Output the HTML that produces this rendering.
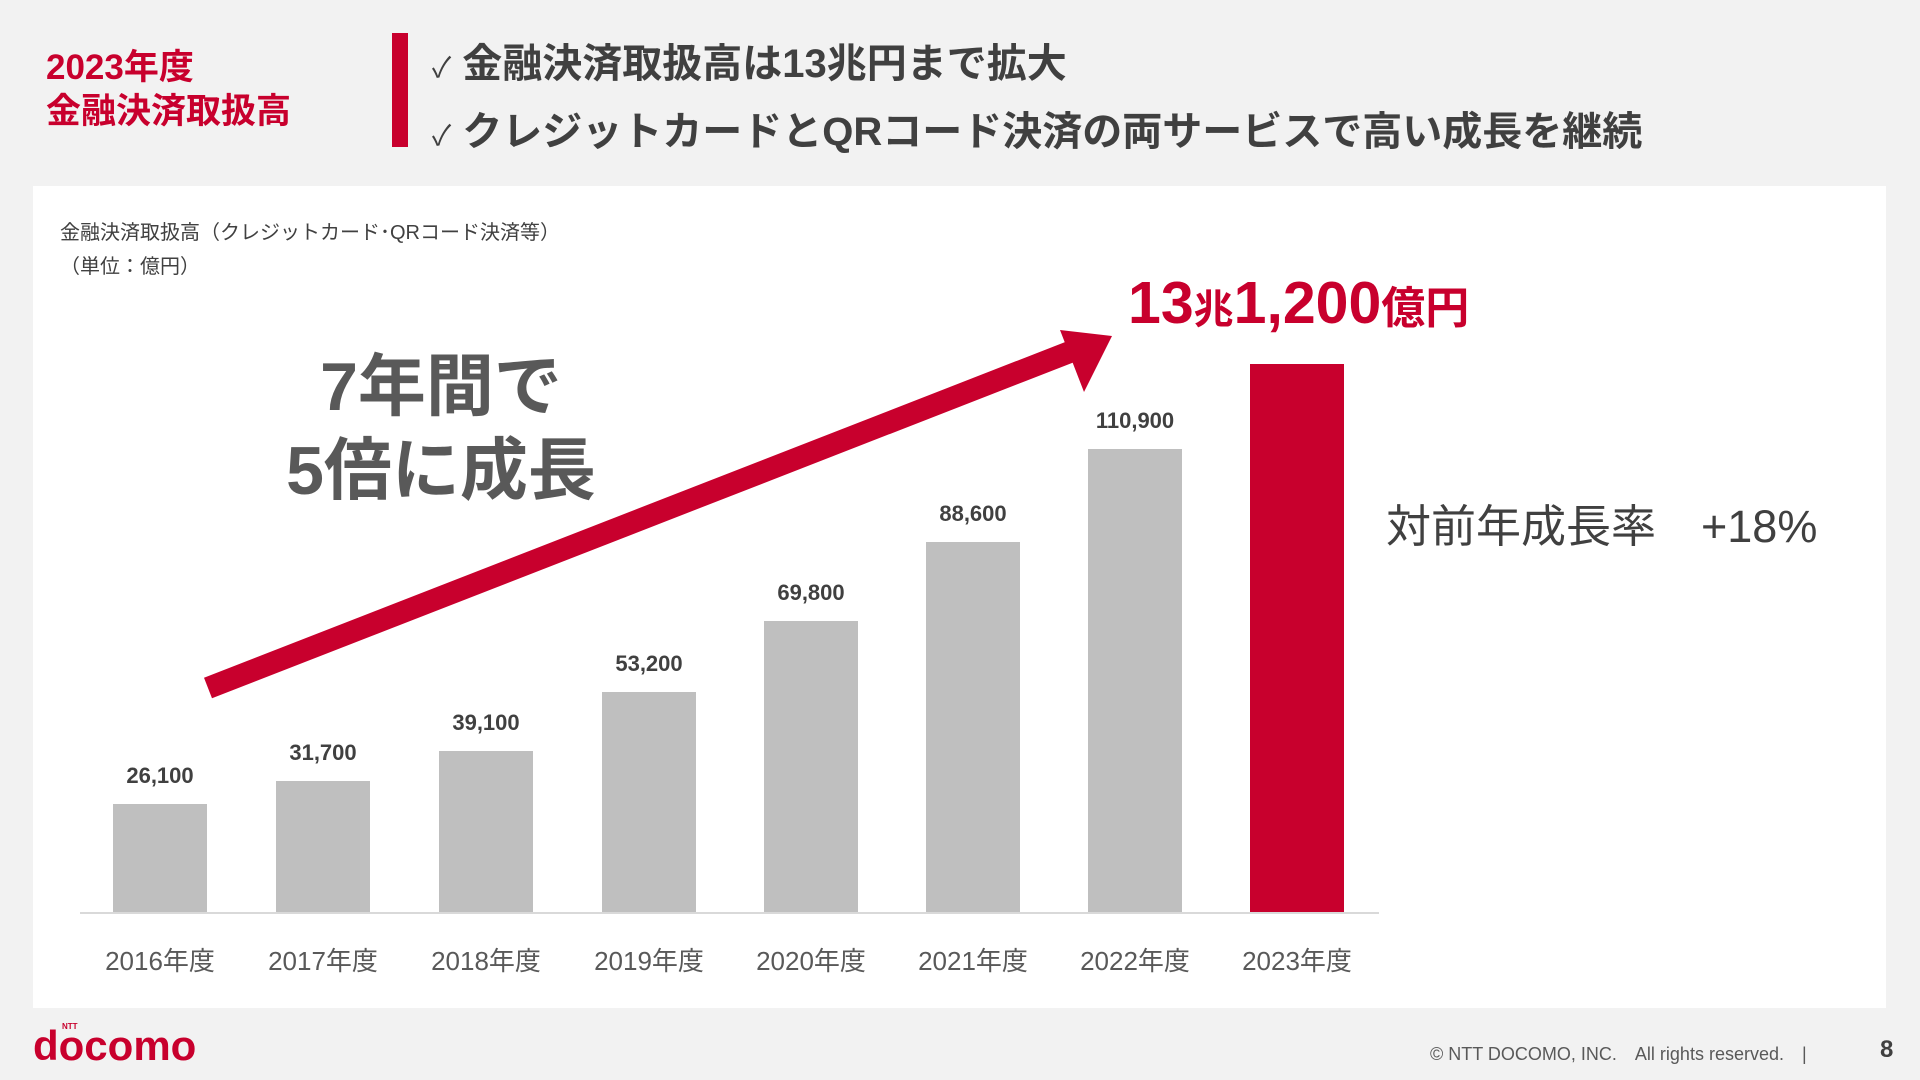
<!DOCTYPE html>
<html><head><meta charset="utf-8"><style>
*{margin:0;padding:0;box-sizing:border-box}
body{width:1920px;height:1080px;background:#f2f2f2;position:relative;overflow:hidden;font-family:"Liberation Sans","Noto Sans CJK JP",sans-serif}
.a{position:absolute;white-space:nowrap}
.red{color:#c8002d}
.bar{position:absolute;width:94px;background:#bfbfbf}
.v{position:absolute;width:140px;text-align:center;font-size:22px;color:#404040;font-weight:bold}
.x{position:absolute;width:160px;text-align:center;font-size:26px;color:#595959;top:941px}
</style></head><body>
<div class="a red" style="left:46px;top:46px;font-size:35px;font-weight:bold;line-height:44px">2023年度<br>金融決済取扱高</div>
<div class="a" style="left:392px;top:33px;width:16px;height:114px;background:#c8002d"></div>
<div class="a" style="left:432px;top:32px;font-size:40px;font-weight:bold;color:#404040;line-height:64px"><span style="font-size:28px;font-weight:normal">✓</span> 金融決済取扱高は13兆円まで拡大<br><span style="font-size:28px;font-weight:normal">✓</span> クレジットカードとQRコード決済の両サービスで高い成長を継続</div>
<div class="a" style="left:33px;top:186px;width:1853px;height:822px;background:#fff"></div>
<div class="a" style="left:60px;top:216px;font-size:20px;color:#404040;line-height:34px">金融決済取扱高（クレジットカード･QRコード決済等）<br>（単位：億円）</div>
<div class="a" style="left:80px;top:912px;width:1299px;height:2px;background:#d9d9d9"></div>
<div class="bar" style="left:113px;top:804px;height:108px"></div>
<div class="bar" style="left:276px;top:781px;height:131px"></div>
<div class="bar" style="left:439px;top:751px;height:161px"></div>
<div class="bar" style="left:602px;top:692px;height:220px"></div>
<div class="bar" style="left:764px;top:621px;height:291px"></div>
<div class="bar" style="left:926px;top:542px;height:370px"></div>
<div class="bar" style="left:1088px;top:449px;height:463px"></div>
<div class="bar" style="left:1250px;top:364px;height:548px;background:#c8002d"></div>
<div class="v" style="left:90px;top:763px">26,100</div>
<div class="v" style="left:253px;top:740px">31,700</div>
<div class="v" style="left:416px;top:710px">39,100</div>
<div class="v" style="left:579px;top:651px">53,200</div>
<div class="v" style="left:741px;top:580px">69,800</div>
<div class="v" style="left:903px;top:501px">88,600</div>
<div class="v" style="left:1065px;top:408px">110,900</div>
<div class="x" style="left:80px">2016年度</div>
<div class="x" style="left:243px">2017年度</div>
<div class="x" style="left:406px">2018年度</div>
<div class="x" style="left:569px">2019年度</div>
<div class="x" style="left:731px">2020年度</div>
<div class="x" style="left:893px">2021年度</div>
<div class="x" style="left:1055px">2022年度</div>
<div class="x" style="left:1217px">2023年度</div>
<svg class="a" style="left:0;top:0" width="1920" height="1080">
<line x1="208" y1="688" x2="1075" y2="350" stroke="#c8002d" stroke-width="22"/>
<polygon points="1112,336 1060,330 1084,392" fill="#c8002d"/>
</svg>
<div class="a red" style="left:1128px;top:268px;font-weight:bold;font-size:59px;line-height:70px">13<span style="font-size:40px">兆</span>1,200<span style="font-size:44px">億円</span></div>
<div class="a" style="left:280px;top:345px;width:322px;text-align:center;font-size:68px;font-weight:bold;color:#595959;line-height:84px">7年間で<br>5倍に成長</div>
<div class="a" style="left:1386px;top:490px;font-size:45px;color:#404040">対前年成長率　+18%</div>
<div class="a red" style="left:33px;top:1022px;font-size:42px;font-weight:bold;letter-spacing:0px">docomo</div>
<div class="a red" style="left:62px;top:1022px;font-size:8px;font-weight:bold">NTT</div>
<div class="a" style="left:1430px;top:1040px;font-size:18px;color:#595959">© NTT DOCOMO, INC.　All rights reserved.　|</div>
<div class="a" style="left:1880px;top:1036px;font-size:24px;font-weight:bold;color:#404040">8</div>
</body></html>
